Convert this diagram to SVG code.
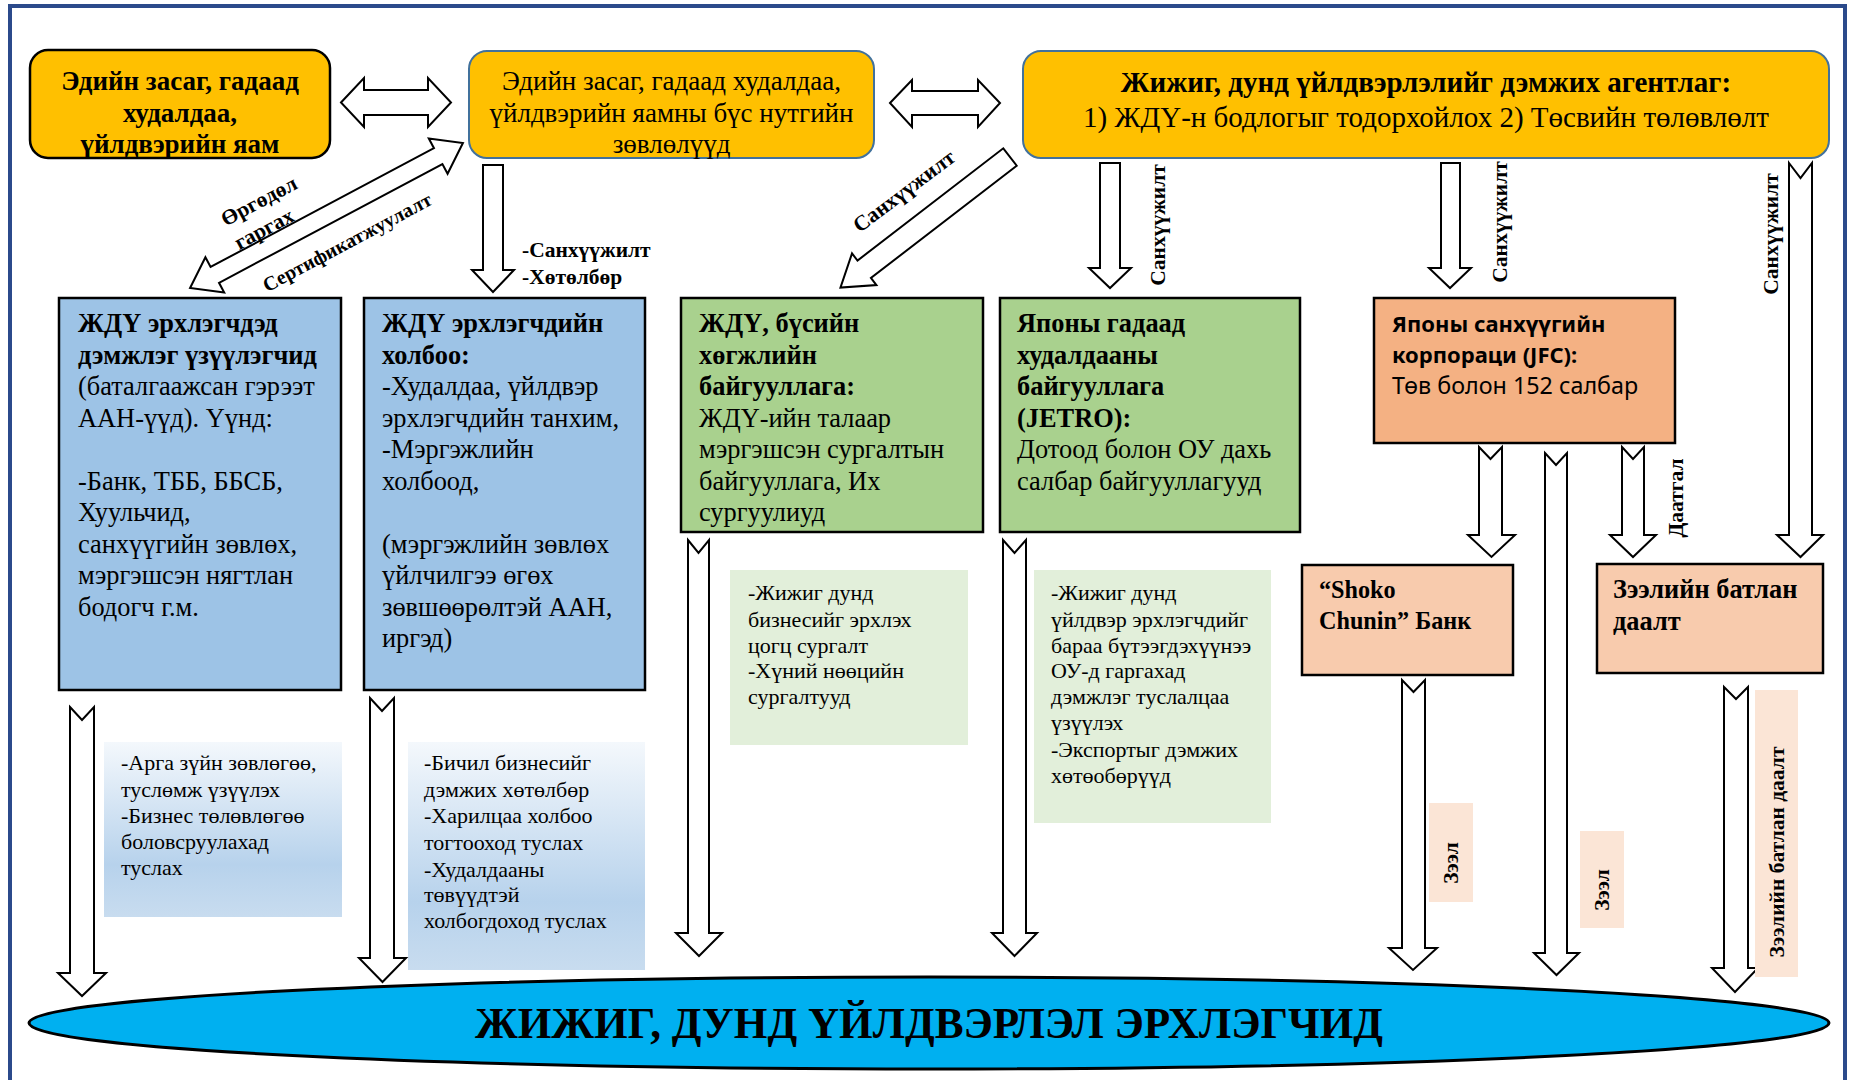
<svg xmlns="http://www.w3.org/2000/svg" width="1853" height="1080" viewBox="0 0 1853 1080">
<defs>
<linearGradient id="gBlue" x1="0" y1="0" x2="0" y2="1">
<stop offset="0" stop-color="#F4F8FC"/>
<stop offset="0.7" stop-color="#B7D2EC"/>
<stop offset="1" stop-color="#C8DCEF"/>
</linearGradient>
</defs>
<style>
.fTop{font-family:"Liberation Serif","Times New Roman",serif;font-size:27px;fill:#000}
.fAg{font-family:"Liberation Serif","Times New Roman",serif;font-size:29px;fill:#000}
.fBody{font-family:"Liberation Serif","Times New Roman",serif;font-size:26.4px;fill:#000}
.fShoko{font-family:"Liberation Serif","Times New Roman",serif;font-size:24.2px;font-weight:bold;fill:#000}
.fDesc{font-family:"Liberation Serif","Times New Roman",serif;font-size:22px;fill:#000}
.fLbl{font-family:"Liberation Serif","Times New Roman",serif;font-size:21.5px;font-weight:bold;fill:#000}
.fBig{font-family:"Liberation Serif","Times New Roman",serif;font-size:45px;font-weight:bold;fill:#000}
.fSans{font-family:"Noto Sans","Liberation Sans",sans-serif;font-size:23.3px;fill:#000}
.bld{font-weight:bold}
.arrow{fill:#fff;stroke:#000;stroke-width:2;stroke-linejoin:miter}
.boxk{stroke:#000;stroke-width:2.5}
</style>
<rect x="0" y="0" width="1853" height="1080" fill="#fff"/>
<rect x="10" y="6" width="1835" height="1100" fill="none" stroke="#2B4A8B" stroke-width="4"/>

<!-- top nodes -->
<g id="ministry">
<rect x="30" y="50" width="300" height="108" rx="18" fill="#FFC000" class="boxk"/>
<text class="fTop bld" text-anchor="middle"><tspan x="180" y="90">Эдийн засаг, гадаад</tspan><tspan x="180" y="122">худалдаа,</tspan><tspan x="180" y="153">үйлдвэрийн яам</tspan></text>
</g>
<g id="regional-councils">
<rect x="469" y="51" width="405" height="107" rx="18" fill="#FFC000" stroke="#41719C" stroke-width="2"/>
<text class="fTop" text-anchor="middle"><tspan x="671.5" y="90">Эдийн засаг, гадаад худалдаа,</tspan><tspan x="671.5" y="122">үйлдвэрийн яамны бүс нутгийн</tspan><tspan x="671.5" y="153">зөвлөлүүд</tspan></text>
</g>
<g id="sme-agency">
<rect x="1023" y="51" width="806" height="107" rx="18" fill="#FFC000" stroke="#41719C" stroke-width="2"/>
<text class="fAg" text-anchor="middle"><tspan x="1426" y="92" font-weight="bold">Жижиг, дунд үйлдвэрлэлийг дэмжих агентлаг:</tspan><tspan x="1426" y="127">1) ЖДҮ-н бодлогыг тодорхойлох 2) Төсвийн төлөвлөлт</tspan></text>
</g>

<!-- second row -->
<g id="support-providers">
<rect x="59" y="298" width="282" height="392" fill="#9DC3E6" class="boxk"/>
<text class="fBody"><tspan x="78" y="332" font-weight="bold">ЖДҮ эрхлэгчдэд</tspan><tspan x="78" y="363.5" font-weight="bold">дэмжлэг үзүүлэгчид</tspan><tspan x="78" y="395">(баталгаажсан гэрээт</tspan><tspan x="78" y="426.5">ААН-үүд). Үүнд:</tspan><tspan x="78" y="489.5">-Банк, ТББ, ББСБ,</tspan><tspan x="78" y="521">Хуульчид,</tspan><tspan x="78" y="552.5">санхүүгийн зөвлөх,</tspan><tspan x="78" y="584">мэргэшсэн нягтлан</tspan><tspan x="78" y="615.5">бодогч г.м.</tspan></text>
</g>
<g id="associations">
<rect x="364" y="298" width="281" height="392" fill="#9DC3E6" class="boxk"/>
<text class="fBody"><tspan x="382" y="332" font-weight="bold">ЖДҮ эрхлэгчдийн</tspan><tspan x="382" y="363.5" font-weight="bold">холбоо:</tspan><tspan x="382" y="395">-Худалдаа, үйлдвэр</tspan><tspan x="382" y="426.5">эрхлэгчдийн танхим,</tspan><tspan x="382" y="458">-Мэргэжлийн</tspan><tspan x="382" y="489.5">холбоод,</tspan><tspan x="382" y="552.5">(мэргэжлийн зөвлөх</tspan><tspan x="382" y="584">үйлчилгээ өгөх</tspan><tspan x="382" y="615.5">зөвшөөрөлтэй ААН,</tspan><tspan x="382" y="647">иргэд)</tspan></text>
</g>
<g id="regional-dev">
<rect x="681" y="298" width="302" height="234" fill="#A9D18E" class="boxk"/>
<text class="fBody"><tspan x="699" y="332" font-weight="bold">ЖДҮ, бүсийн</tspan><tspan x="699" y="363.5" font-weight="bold">хөгжлийн</tspan><tspan x="699" y="395" font-weight="bold">байгууллага:</tspan><tspan x="699" y="426.5">ЖДҮ-ийн талаар</tspan><tspan x="699" y="458">мэргэшсэн сургалтын</tspan><tspan x="699" y="489.5">байгууллага, Их</tspan><tspan x="699" y="521">сургуулиуд</tspan></text>
</g>
<g id="jetro">
<rect x="1000" y="298" width="300" height="234" fill="#A9D18E" class="boxk"/>
<text class="fBody"><tspan x="1017" y="332" font-weight="bold">Японы гадаад</tspan><tspan x="1017" y="363.5" font-weight="bold">худалдааны</tspan><tspan x="1017" y="395" font-weight="bold">байгууллага</tspan><tspan x="1017" y="426.5" font-weight="bold">(JETRO):</tspan><tspan x="1017" y="458">Дотоод болон ОУ дахь</tspan><tspan x="1017" y="489.5">салбар байгууллагууд</tspan></text>
</g>
<g id="jfc">
<rect x="1374" y="298" width="301" height="145" fill="#F4B183" class="boxk"/>
<text class="fSans"><tspan x="1392" y="332" font-weight="bold" font-size="22">Японы санхүүгийн</tspan><tspan x="1392" y="363" font-weight="bold" font-size="22">корпораци (JFC):</tspan><tspan x="1392" y="394">Төв болон 152 салбар</tspan></text>
</g>
<g id="shoko-bank">
<rect x="1302" y="565" width="211" height="110" fill="#F8CBAD" class="boxk"/>
<text class="fShoko"><tspan x="1319" y="598">“Shoko</tspan><tspan x="1319" y="629">Chunin” Банк</tspan></text>
</g>
<g id="loan-guarantee">
<rect x="1597" y="564" width="226" height="109" fill="#F8CBAD" class="boxk"/>
<text class="fBody bld"><tspan x="1613" y="598">Зээлийн батлан</tspan><tspan x="1613" y="630">даалт</tspan></text>
</g>

<!-- description boxes -->
<g id="desc-support">
<rect x="104" y="742" width="238" height="175" fill="url(#gBlue)"/>
<text class="fDesc"><tspan x="121" y="770">-Арга зүйн зөвлөгөө,</tspan><tspan x="121" y="797">туслөмж үзүүлэх</tspan><tspan x="121" y="823">-Бизнес төлөвлөгөө</tspan><tspan x="121" y="849">боловсруулахад</tspan><tspan x="121" y="875">туслах</tspan></text>
</g>
<g id="desc-assoc">
<rect x="408" y="742" width="237" height="228" fill="url(#gBlue)"/>
<text class="fDesc"><tspan x="424" y="770">-Бичил бизнесийг</tspan><tspan x="424" y="797">дэмжих хөтөлбөр</tspan><tspan x="424" y="823">-Харилцаа холбоо</tspan><tspan x="424" y="850">тогтооход туслах</tspan><tspan x="424" y="877">-Худалдааны</tspan><tspan x="424" y="902">төвүүдтэй</tspan><tspan x="424" y="928">холбогдоход туслах</tspan></text>
</g>
<g id="desc-regional">
<rect x="730" y="570" width="238" height="175" fill="#E2EFDA"/>
<text class="fDesc"><tspan x="748" y="600">-Жижиг дунд</tspan><tspan x="748" y="627">бизнесийг эрхлэх</tspan><tspan x="748" y="653">цогц сургалт</tspan><tspan x="748" y="678">-Хүний нөөцийн</tspan><tspan x="748" y="704">сургалтууд</tspan></text>
</g>
<g id="desc-jetro">
<rect x="1034" y="570" width="237" height="253" fill="#E2EFDA"/>
<text class="fDesc"><tspan x="1051" y="600">-Жижиг дунд</tspan><tspan x="1051" y="627">үйлдвэр эрхлэгчдийг</tspan><tspan x="1051" y="653">бараа бүтээгдэхүүнээ</tspan><tspan x="1051" y="678">ОУ-д гаргахад</tspan><tspan x="1051" y="704">дэмжлэг туслалцаа</tspan><tspan x="1051" y="730">үзүүлэх</tspan><tspan x="1051" y="757">-Экспортыг дэмжих</tspan><tspan x="1051" y="783">хөтөобөрүүд</tspan></text>
</g>

<!-- target -->
<g id="sme-operators">
<ellipse cx="929" cy="1023" rx="900" ry="46" fill="#00B0F0" stroke="#000" stroke-width="3"/>
<text class="fBig" text-anchor="middle" x="929" y="1038" textLength="908" lengthAdjust="spacingAndGlyphs">ЖИЖИГ, ДУНД ҮЙЛДВЭРЛЭЛ ЭРХЛЭГЧИД</text>
</g>

<!-- connectors -->
<g id="connectors">
<polygon class="arrow" points="341,102.5 364,78 364,90 428,90 428,78 451,102.5 428,127 428,115 364,115 364,127"/>
<polygon class="arrow" points="890,103 912,80 912,91 978,91 978,80 1000,103 978,127 978,115 912,115 912,127"/>
<polygon class="arrow" transform="translate(326.5,215.5) rotate(-28)" points="-154.5,0 -126.5,-20 -126.5,-9 126.5,-9 126.5,-20 154.5,0 126.5,20 126.5,9 -126.5,9 -126.5,20"/>
<polygon class="arrow" transform="translate(1010,157) rotate(142.4)" points="0,-11 184,-11 184,-20 214,0 184,20 184,11 0,11"/>
<polygon class="arrow" points="483,165 503,165 503,270 514,270 493,292 472,270 483,270"/>
<polygon class="arrow" points="1100,163 1120,163 1120,268 1131,268 1110,288 1089,268 1100,268"/>
<polygon class="arrow" points="1441,163 1460,163 1460,268 1471,268 1450,288 1429,268 1441,268"/>
<polygon class="arrow" points="1789,163 1800.5,178 1812,163 1812,535 1823,535 1800.5,557 1777,535 1789,535"/>
<polygon class="arrow" points="1479,447 1490.5,459 1502,447 1502,535 1515,535 1491.5,557 1468,535 1479,535"/>
<polygon class="arrow" points="1545,453 1556,465 1567,453 1567,953 1579,953 1556.5,975 1534,953 1545,953"/>
<polygon class="arrow" points="1622,447 1633,459 1644,447 1644,535 1656,535 1633,557 1610,535 1622,535"/>
<polygon class="arrow" points="70,707 82,720 94,707 94,973 106,973 82,996 58,973 70,973"/>
<polygon class="arrow" points="370,698 382,711 394,698 394,958 406,958 382.5,982 359,958 370,958"/>
<polygon class="arrow" points="688,540 698.5,553 709,540 709,933 722,933 699,956 676,933 688,933"/>
<polygon class="arrow" points="1003,540 1014.5,553 1026,540 1026,933 1037,933 1014.5,956 992,933 1003,933"/>
<polygon class="arrow" points="1402,680 1413.5,692 1425,680 1425,948 1437,948 1413,970 1389,948 1402,948"/>
<polygon class="arrow" points="1724,687 1736,699 1748,687 1748,968 1758,968 1735,992 1712,968 1724,968"/>

<!-- connector labels -->
<g class="fLbl" text-anchor="middle" dominant-baseline="central">
<text transform="translate(259,201) rotate(-28)" font-size="21.5">Өргөдөл</text>
<text transform="translate(264,229) rotate(-28)" font-size="21.5">гаргах</text>
<text transform="translate(347,242) rotate(-28)" font-size="20">Сертификатжуулалт</text>
<text transform="translate(904,191) rotate(-37)">Санхүүжилт</text>
<text transform="translate(1158,225) rotate(-90)">Санхүүжилт</text>
<text transform="translate(1500,222) rotate(-90)">Санхүүжилт</text>
<text transform="translate(1771,234) rotate(-90)">Санхүүжилт</text>
<text transform="translate(1676,498) rotate(-90)">Даатгал</text>
</g>
<text class="fLbl"><tspan x="522" y="257">-Санхүүжилт</tspan><tspan x="522" y="284">-Хөтөлбөр</tspan></text>
<rect x="1429" y="803" width="44" height="99" fill="#FBE5D6"/>
<rect x="1580" y="831" width="44" height="97" fill="#FBE5D6"/>
<rect x="1755" y="690" width="43" height="287" fill="#FBE5D6"/>
<g class="fLbl" text-anchor="middle" dominant-baseline="central">
<text transform="translate(1451,863) rotate(-90)">Зээл</text>
<text transform="translate(1602,890) rotate(-90)">Зээл</text>
<text transform="translate(1777,852) rotate(-90)">Зээлийн батлан даалт</text>
</g>
</g>
</svg>
